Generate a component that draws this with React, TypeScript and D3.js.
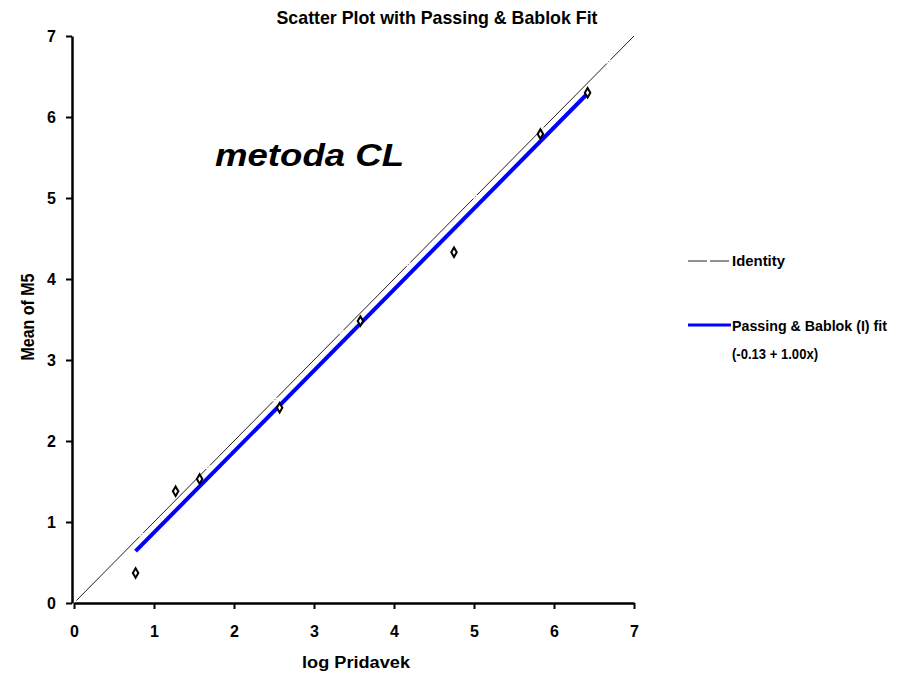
import React, { useEffect, useRef } from "react";
import * as d3 from "d3";

const pointsX = [0.77, 1.27, 1.57, 2.57, 3.58, 4.75, 5.83, 6.42];
const pointsY = [0.37, 1.38, 1.53, 2.41, 3.48, 4.33, 5.79, 6.30];
const tickValues = [0, 1, 2, 3, 4, 5, 6, 7];
const fitIntercept = -0.13;
const fitSlope = 1.0;
const fitRange = [0.77, 6.42];
const legendLabels = ["Identity", "Passing & Bablok (I) fit", "(-0.13 + 1.00x)"];

const App = () => {
  const svgRef = useRef<SVGSVGElement>(null);

  useEffect(() => {
    const width = 913;
    const height = 676;
    const margin = { top: 36, left: 74, right: 279, bottom: 73 };
    const font = "'Liberation Sans', Arial, sans-serif";

    const svg = d3.select(svgRef.current)
      .attr("width", width)
      .attr("height", height)
      .style("position", "absolute")
      .style("left", 0)
      .style("top", 0)
      .style("background", "#fff");

    svg.selectAll("*").remove();

    const x = d3.scaleLinear().domain([0, 7]).range([margin.left, width - margin.right]);
    const y = d3.scaleLinear().domain([0, 7]).range([height - margin.bottom, margin.top]);

    // axes
    const xAxis = svg.append("g")
      .attr("transform", `translate(0, ${y(0)})`)
      .call(d3.axisBottom(x).tickValues(tickValues).tickFormat(d3.format("d")).tickSize(6).tickPadding(17).tickSizeOuter(0));
    const yAxis = svg.append("g")
      .attr("transform", `translate(${x(0) - 2}, 0)`)
      .call(d3.axisLeft(y).tickValues(tickValues).tickFormat(d3.format("d")).tickSize(6).tickPadding(10).tickSizeOuter(0));

    [xAxis, yAxis].forEach(g => {
      g.select(".domain").attr("stroke", "#000").attr("stroke-width", 2.5);
      g.selectAll(".tick line").attr("stroke", "#000").attr("stroke-width", 2);
      g.selectAll(".tick text")
        .attr("fill", "#000")
        .style("font-family", font)
        .style("font-weight", "bold")
        .style("font-size", "16px");
    });

    const addText = (tx: number, ty: number, size: number, len: number, t: string, anchor = "start") =>
      svg.append("text")
        .attr("x", tx)
        .attr("y", ty)
        .attr("text-anchor", anchor)
        .attr("textLength", len)
        .attr("lengthAdjust", "spacingAndGlyphs")
        .style("font-family", font)
        .style("font-weight", "bold")
        .style("font-size", `${size}px`)
        .text(t);

    // title
    addText(437, 24, 19, 321, "Scatter Plot with Passing & Bablok Fit", "middle");

    addText(215, 166, 32, 189, "metoda CL").style("font-style", "italic");

    // axis labels
    addText(356, 668, 16, 108, "log Pridavek", "middle");

    addText(0, 0, 18, 87, "Mean of M5", "middle")
      .attr("transform", `translate(34, 317) rotate(-90)`);

    // identity line
    const line = d3.line<number>().x(d => x(d)).y(d => y(d));
    svg.append("path")
      .datum([0.03, 7])
      .attr("fill", "none")
      .attr("stroke", "#222")
      .attr("stroke-width", 1)
      .attr("stroke-dasharray", "90,2,1,2")
      .attr("d", line);

    // fit line
    const fitLine = d3.line<number>().x(d => x(d)).y(d => y(fitIntercept + fitSlope * d));
    svg.append("path")
      .datum(fitRange)
      .attr("fill", "none")
      .attr("stroke", "#0000ff")
      .attr("stroke-width", 4)
      .attr("d", fitLine);

    // points
    const symbol = d3.symbol().type(d3.symbolDiamond).size(26);
    svg.selectAll(".pt")
      .data(pointsX.map((v, i) => [v, pointsY[i]]))
      .enter()
      .append("path")
      .attr("class", "pt")
      .attr("transform", d => `translate(${x(d[0])}, ${y(d[1])})`)
      .attr("d", symbol)
      .attr("fill", "#fff")
      .attr("stroke", "#000")
      .attr("stroke-width", 2);

    // legend
    svg.append("line")
      .attr("x1", 688).attr("x2", 731).attr("y1", 261).attr("y2", 261)
      .attr("stroke", "#222").attr("stroke-width", 1).attr("stroke-dasharray", "19,3");
    svg.append("line")
      .attr("x1", 688).attr("x2", 731).attr("y1", 325).attr("y2", 325)
      .attr("stroke", "#0000ff").attr("stroke-width", 3);
    const legendY = [266, 331, 359];
    const legendLen = [53, 155, 86];
    legendLabels.forEach((t, i) => {
      addText(732, legendY[i], 15, legendLen[i], t);
    });
  }, []);

  return <svg ref={svgRef}></svg>;
};

export default App;
